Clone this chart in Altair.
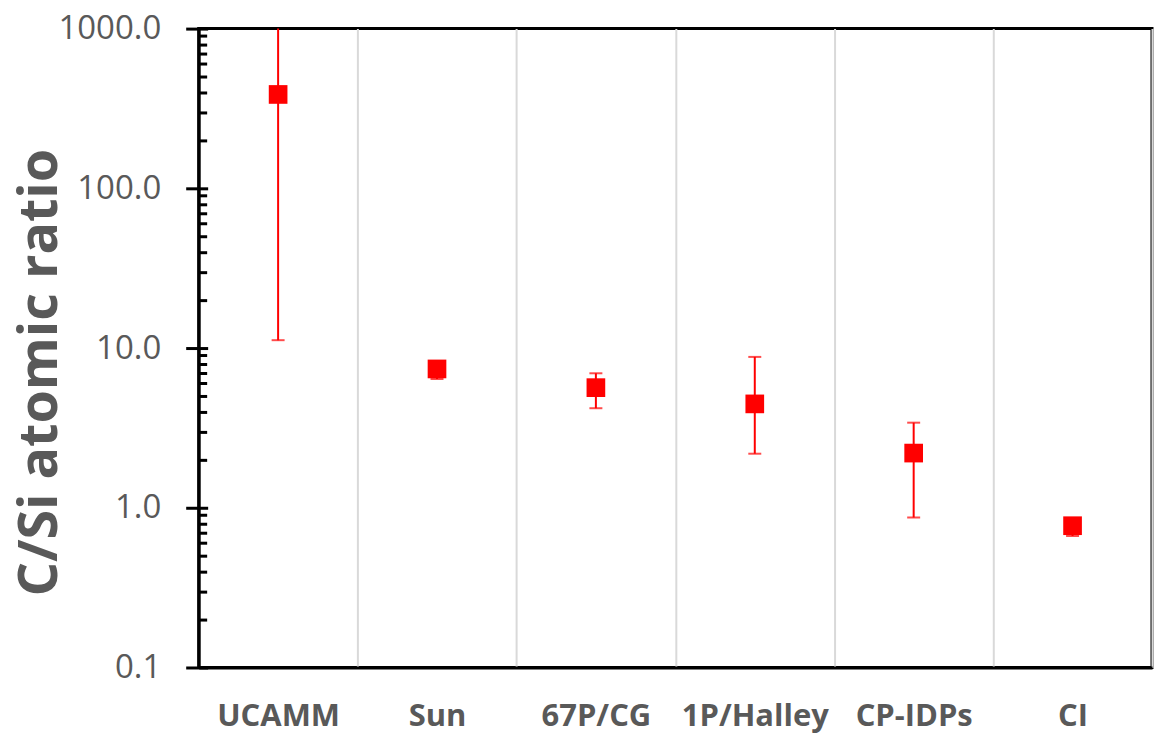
import altair as alt
import pandas as pd

# ---- data ----
categories = ["UCAMM", "Sun", "67P/CG", "1P/Halley", "CP-IDPs", "CI"]
ratio = [387, 7.4, 5.65, 4.47, 2.2, 0.772]
err_low = [11.2, 6.4, 4.2, 2.18, 0.87, 0.665]
err_high = [1200, 8.0, 6.95, 8.8, 3.41, 0.85]

major_ticks = [0.1, 1, 10, 100, 1000]
minor_ticks = [0.2, 0.3, 0.4, 0.5, 0.6, 0.7, 0.8, 0.9,
               2, 3, 4, 5, 6, 7, 8, 9,
               20, 30, 40, 50, 60, 70, 80, 90,
               200, 300, 400, 500, 600, 700, 800, 900]

df = pd.DataFrame({"cat": categories, "ratio": ratio, "low": err_low, "high": err_high})
caps = pd.DataFrame({"cat": categories + categories, "v": err_low + err_high})

RED = "#ff0000"
GREY = "#595959"
FONT = "Open Sans"

yscale = alt.Scale(type="log", domain=[0.1, 1000], nice=False)
xscale = alt.Scale(paddingInner=0, paddingOuter=0)

x_main = alt.X(
    "cat:N", sort=categories, scale=xscale,
    axis=alt.Axis(
        orient="bottom", title="", labelAngle=0, labelAlign="center",
        labelFont=FONT, labelFontSize=31, labelFontWeight="bold", labelColor=GREY,
        labelPadding=49, ticks=False, tickSize=0,
        domainColor="black", domainWidth=3,
        grid=True, tickBand="extent", gridColor="#d9d9d9", gridWidth=2,
    ),
)
x_plain = alt.X("cat:N", sort=categories, scale=xscale)

rules = alt.Chart(df).mark_rule(color=RED, strokeWidth=2, clip=True).encode(
    x=x_plain,
    y=alt.Y("low:Q", scale=yscale,
            axis=alt.Axis(orient="left", values=major_ticks, tickSize=9, tickWidth=3,
                          tickColor="black", offset=-9, domain=False, labels=False,
                          grid=False, title="")),
    y2="high:Q",
)

cap_marks = alt.Chart(caps).mark_tick(color=RED, size=13, thickness=2, clip=True).encode(
    x=x_plain,
    y=alt.Y("v:Q", scale=yscale,
            axis=alt.Axis(orient="left", values=minor_ticks, tickSize=8, tickWidth=3,
                          tickColor="black", offset=-8, domain=False, labels=False,
                          grid=False, title="")),
)

points = alt.Chart(df).mark_point(shape="square", filled=True, size=350, color=RED, opacity=1).encode(
    x=x_main,
    y=alt.Y("ratio:Q", scale=yscale,
            axis=alt.Axis(orient="left", values=major_ticks, format=".1f",
                          tickSize=13, tickWidth=3, tickColor="black",
                          domainColor="black", domainWidth=3, grid=False,
                          labelFont=FONT, labelFontSize=33, labelColor=GREY, labelPadding=25,
                          title="C/Si atomic ratio", titleFont=FONT, titleFontSize=54,
                          titleFontWeight="bold", titleColor=GREY,
                          titleAngle=270, titleX=-142, titleY=344,
                          titleAlign="center", titleBaseline="alphabetic")),
)

chart = (
    alt.layer(rules, cap_marks, points)
    .resolve_axis(y="independent")
    .properties(width=955, height=640,
                autosize=alt.AutoSizeParams(type="none"),
                padding={"left": 191, "top": 20, "right": 2, "bottom": 70},
                background="white")
    .configure_view(stroke="black", strokeWidth=3)
)

chart.save("out.html", embed_options={"renderer": "svg", "actions": False})
